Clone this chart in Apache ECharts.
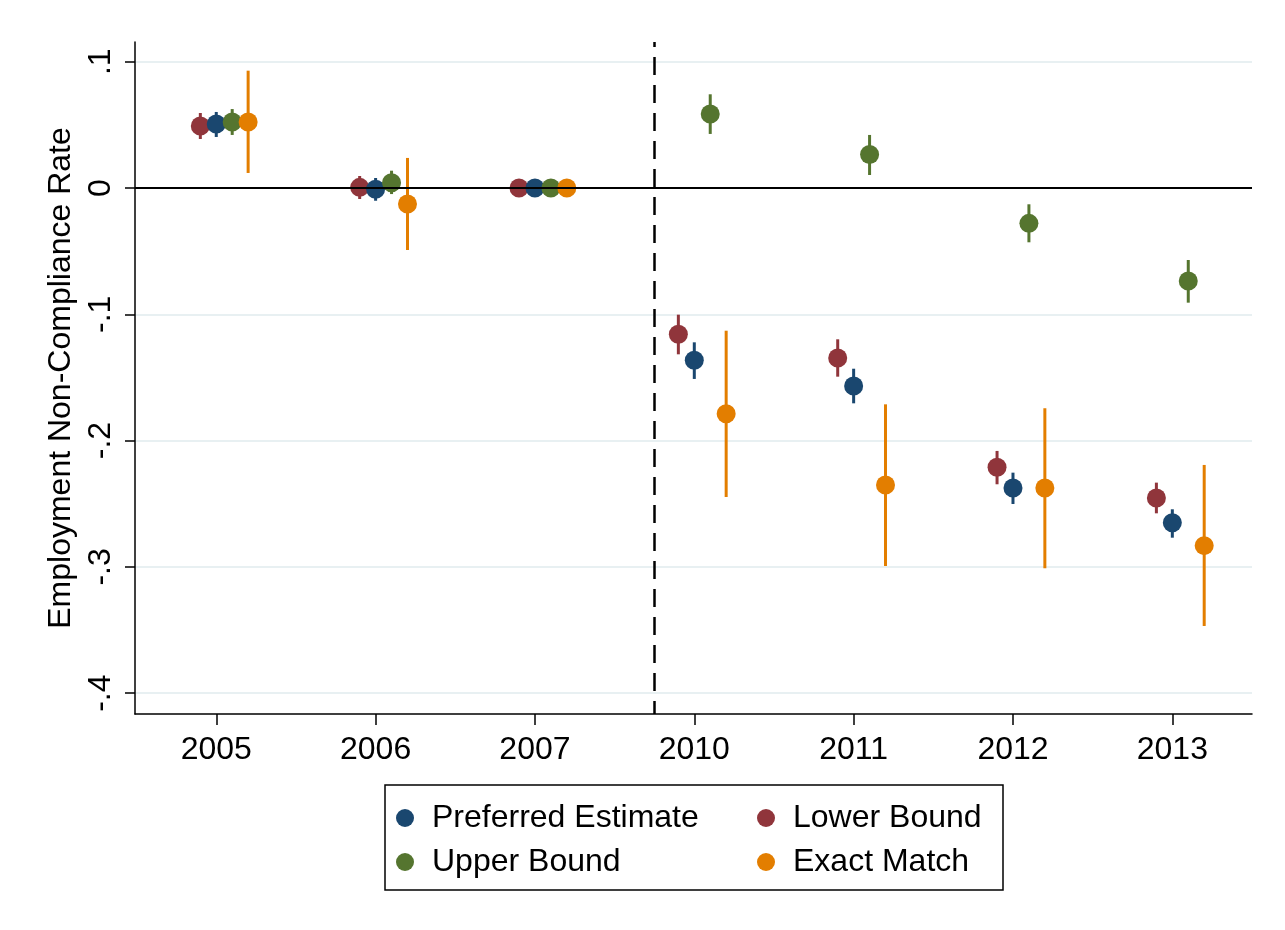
<!DOCTYPE html>
<html>
<head>
<meta charset="utf-8">
<title>Employment Non-Compliance Rate</title>
<script src="https://cdn.jsdelivr.net/npm/echarts@6/dist/echarts.min.js"></script>
<style>
  html, body { margin: 0; padding: 0; background: #ffffff; }
  #chart { width: 1285px; height: 930px; }
</style>
</head>
<body>
<div id="chart"></div>
<script>
// Survey years on the horizontal axis (positions 1..7)
const years = ['2005', '2006', '2007', '2010', '2011', '2012', '2013'];

// Y tick values and their printed labels
const yTickValues = [-0.4, -0.3, -0.2, -0.1, 0, 0.1];
const yTickLabels = ['-.4', '-.3', '-.2', '-.1', '0', '.1'];

// Point estimates and 95% confidence bounds per year (2007 is the reference year)
const preferred   = [0.0507, -0.0010, 0, -0.1364, -0.1568, -0.2375, -0.2650];
const preferredLo = [0.0404, -0.0101, 0, -0.1512, -0.1705, -0.2502, -0.2769];
const preferredHi = [0.0602,  0.0079, 0, -0.1222, -0.1431, -0.2254, -0.2544];

const lowerB   = [0.0491,  0.0005, 0, -0.1158, -0.1346, -0.2211, -0.2454];
const lowerLo  = [0.0388, -0.0087, 0, -0.1317, -0.1494, -0.2346, -0.2576];
const lowerHi  = [0.0594,  0.0095, 0, -0.1003, -0.1198, -0.2082, -0.2333];

const upperB   = [0.0523,  0.0042, 0,  0.0586,  0.0265, -0.0280, -0.0736];
const upperLo  = [0.0420, -0.0048, 0,  0.0428,  0.0103, -0.0430, -0.0908];
const upperHi  = [0.0625,  0.0137, 0,  0.0742,  0.0420, -0.0129, -0.0570];

const exact    = [0.0523, -0.0127, 0, -0.1787, -0.2352, -0.2375, -0.2832];
const exactLo  = [0.0119, -0.0491, 0, -0.2447, -0.2993, -0.3011, -0.3468];
const exactHi  = [0.0929,  0.0238, 0, -0.1130, -0.1713, -0.1744, -0.2193];

// Policy break drawn between 2007 and 2010
const breakPosition = 3.75;

const FONT = "'Liberation Sans', Arial, Helvetica, sans-serif";
const FONT_SIZE = 32;

// Series definitions: horizontal offset keeps the four estimates side by side
const groups = [
  { name: 'Lower Bound',        color: '#90353b', offset: -0.1, est: lowerB,    lo: lowerLo,     hi: lowerHi },
  { name: 'Preferred Estimate', color: '#1a476f', offset:  0.0, est: preferred, lo: preferredLo, hi: preferredHi },
  { name: 'Upper Bound',        color: '#55752f', offset:  0.1, est: upperB,    lo: upperLo,     hi: upperHi },
  { name: 'Exact Match',        color: '#e37e00', offset:  0.2, est: exact,     lo: exactLo,     hi: exactHi }
];

const series = [];
groups.forEach(function (g, gi) {
  series.push({
    name: g.name,
    type: 'scatter',
    symbol: 'circle',
    symbolSize: 19,
    z: 3,
    itemStyle: { color: g.color, opacity: 1 },
    data: g.est.map(function (v, i) { return [i + 1 + g.offset, v]; }),
    markLine: gi === 0 ? {
      silent: true,
      symbol: 'none',
      label: { show: false },
      animation: false,
      data: [
        { yAxis: 0, lineStyle: { color: '#000000', width: 2.2, type: 'solid' } },
        { xAxis: breakPosition, lineStyle: { color: '#000000', width: 2.5, type: [18, 10], dashOffset: 5 } }
      ]
    } : undefined
  });
  series.push({
    name: g.name,
    type: 'custom',
    z: 2,
    itemStyle: { color: g.color },
    encode: { x: 0, y: [1, 2] },
    data: g.lo.map(function (v, i) { return [i + 1 + g.offset, v, g.hi[i]]; }),
    renderItem: function (params, api) {
      const x = api.value(0);
      const p1 = api.coord([x, api.value(1)]);
      const p2 = api.coord([x, api.value(2)]);
      return {
        type: 'line',
        shape: { x1: p1[0], y1: p1[1], x2: p2[0], y2: p2[1] },
        style: { stroke: g.color, lineWidth: 3 }
      };
    }
  });
});

const legendBase = {
  orient: 'vertical',
  icon: 'circle',
  itemWidth: 18,
  itemHeight: 18,
  itemGap: 10,
  padding: 0,
  top: 801,
  textStyle: { fontFamily: FONT, fontSize: FONT_SIZE, color: '#000000', lineHeight: 34, padding: [0, 0, 0, 13] }
};

const option = {
  animation: false,
  backgroundColor: '#ffffff',
  grid: { left: 135, right: 33, top: 42, bottom: 216, containLabel: false },
  xAxis: {
    type: 'value',
    min: 0.49,
    max: 7.5,
    axisLine: { show: true, onZero: false, lineStyle: { color: '#000000', width: 1.5 } },
    axisTick: { show: true, length: 11, customValues: [1, 2, 3, 4, 5, 6, 7], lineStyle: { color: '#000000', width: 1.5 } },
    axisLabel: {
      customValues: [1, 2, 3, 4, 5, 6, 7],
      margin: 20,
      fontFamily: FONT,
      fontSize: FONT_SIZE,
      color: '#000000',
      formatter: function (v) { return years[Math.round(v) - 1] || ''; }
    },
    splitLine: { show: false }
  },
  yAxis: {
    type: 'value',
    min: -0.4165,
    max: 0.1156,
    name: 'Employment Non-Compliance Rate',
    nameLocation: 'middle',
    nameRotate: 90,
    nameGap: 58,
    nameTextStyle: { fontFamily: FONT, fontSize: FONT_SIZE, color: '#000000' },
    axisLine: { show: true, onZero: false, lineStyle: { color: '#000000', width: 1.5 } },
    axisTick: { show: true, length: 10, customValues: yTickValues, lineStyle: { color: '#000000', width: 1.5 } },
    axisLabel: {
      customValues: yTickValues,
      rotate: 90,
      margin: 18,
      fontFamily: FONT,
      fontSize: FONT_SIZE,
      color: '#000000',
      formatter: function (v) {
        for (let i = 0; i < yTickValues.length; i++) {
          if (Math.abs(yTickValues[i] - v) < 1e-9) return yTickLabels[i];
        }
        return '';
      }
    },
    splitLine: { show: true, lineStyle: { color: '#e8f0f2', width: 2 } }
  },
  legend: [
    Object.assign({}, legendBase, { left: 396, data: ['Preferred Estimate', 'Upper Bound'] }),
    Object.assign({}, legendBase, { left: 757, data: ['Lower Bound', 'Exact Match'] })
  ],
  graphic: [{
    type: 'rect',
    z: -1,
    shape: { x: 385, y: 785, width: 618, height: 105 },
    style: { fill: 'none', stroke: '#000000', lineWidth: 1.5 }
  }],
  series: series
};

const chart = echarts.init(document.getElementById('chart'), null, { renderer: 'canvas' });
chart.setOption(option);
</script>
</body>
</html>
